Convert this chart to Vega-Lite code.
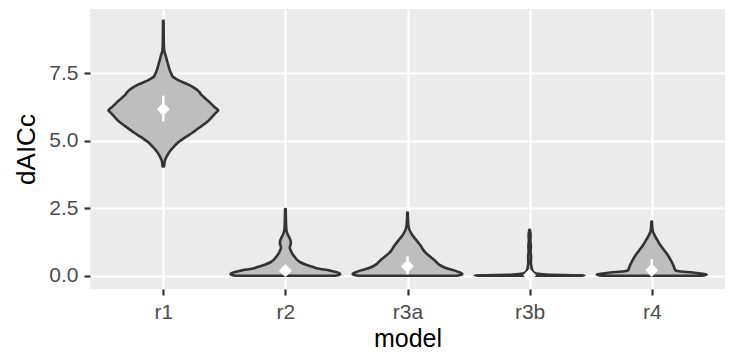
{
  "$schema": "https://vega.github.io/schema/vega-lite/v6.json",
  "autosize": "none",
  "width": 635,
  "height": 280,
  "padding": {"left": 90, "top": 9, "right": 11, "bottom": 66},
  "background": "white",
  "config": {
    "view": {"fill": "#EBEBEB", "stroke": null},
    "axis": {
      "domain": false,
      "labelFont": "Liberation Sans",
      "titleFont": "Liberation Sans",
      "labelFontSize": 21,
      "labelColor": "#4D4D4D",
      "titleFontSize": 26,
      "titleFontWeight": "normal",
      "titleColor": "#000000",
      "tickColor": "#333333",
      "tickSize": 6,
      "tickWidth": 2.2,
      "gridColor": "#FFFFFF",
      "gridOpacity": 1
    }
  },
  "datasets": {
    "summary": [
      {"model": "r1", "mean": 6.17, "lo": 5.72, "hi": 6.67},
      {"model": "r2", "mean": 0.19, "lo": 0.05, "hi": 0.36},
      {"model": "r3a", "mean": 0.35, "lo": 0.05, "hi": 0.72},
      {"model": "r3b", "mean": 0.02, "lo": 0.0, "hi": 0.08},
      {"model": "r4", "mean": 0.2, "lo": 0.0, "hi": 0.62}
    ],
    "r1": [
      {"dAICc": 4.05, "lo": -0.014, "hi": 0.014},
      {"dAICc": 4.25, "lo": -0.027, "hi": 0.027},
      {"dAICc": 4.42, "lo": -0.063, "hi": 0.063},
      {"dAICc": 4.6, "lo": -0.117, "hi": 0.117},
      {"dAICc": 4.79, "lo": -0.198, "hi": 0.198},
      {"dAICc": 4.95, "lo": -0.279, "hi": 0.279},
      {"dAICc": 5.1, "lo": -0.378, "hi": 0.378},
      {"dAICc": 5.2, "lo": -0.459, "hi": 0.459},
      {"dAICc": 5.34, "lo": -0.559, "hi": 0.559},
      {"dAICc": 5.5, "lo": -0.667, "hi": 0.667},
      {"dAICc": 5.65, "lo": -0.766, "hi": 0.766},
      {"dAICc": 5.75, "lo": -0.829, "hi": 0.829},
      {"dAICc": 5.85, "lo": -0.874, "hi": 0.874},
      {"dAICc": 5.95, "lo": -0.919, "hi": 0.919},
      {"dAICc": 6.05, "lo": -0.964, "hi": 0.964},
      {"dAICc": 6.12, "lo": -1.0, "hi": 1.0},
      {"dAICc": 6.24, "lo": -0.937, "hi": 0.937},
      {"dAICc": 6.33, "lo": -0.892, "hi": 0.892},
      {"dAICc": 6.42, "lo": -0.847, "hi": 0.847},
      {"dAICc": 6.52, "lo": -0.793, "hi": 0.793},
      {"dAICc": 6.6, "lo": -0.748, "hi": 0.748},
      {"dAICc": 6.7, "lo": -0.694, "hi": 0.694},
      {"dAICc": 6.8, "lo": -0.658, "hi": 0.658},
      {"dAICc": 6.89, "lo": -0.613, "hi": 0.613},
      {"dAICc": 6.98, "lo": -0.55, "hi": 0.55},
      {"dAICc": 7.07, "lo": -0.468, "hi": 0.468},
      {"dAICc": 7.15, "lo": -0.378, "hi": 0.378},
      {"dAICc": 7.23, "lo": -0.288, "hi": 0.288},
      {"dAICc": 7.3, "lo": -0.225, "hi": 0.225},
      {"dAICc": 7.38, "lo": -0.17, "hi": 0.17},
      {"dAICc": 7.45, "lo": -0.153, "hi": 0.153},
      {"dAICc": 7.57, "lo": -0.126, "hi": 0.126},
      {"dAICc": 7.7, "lo": -0.105, "hi": 0.105},
      {"dAICc": 7.88, "lo": -0.08, "hi": 0.08},
      {"dAICc": 8.0, "lo": -0.063, "hi": 0.063},
      {"dAICc": 8.2, "lo": -0.036, "hi": 0.036},
      {"dAICc": 8.35, "lo": -0.016, "hi": 0.016},
      {"dAICc": 8.6, "lo": -0.009, "hi": 0.009},
      {"dAICc": 9.0, "lo": -0.007, "hi": 0.007},
      {"dAICc": 9.44, "lo": -0.005, "hi": 0.005}
    ],
    "r2": [
      {"dAICc": 0.0, "lo": -0.9, "hi": 0.9},
      {"dAICc": 0.02, "lo": -0.96, "hi": 0.96},
      {"dAICc": 0.06, "lo": -1.0, "hi": 1.0},
      {"dAICc": 0.1, "lo": -0.98, "hi": 0.98},
      {"dAICc": 0.14, "lo": -0.92, "hi": 0.92},
      {"dAICc": 0.19, "lo": -0.81, "hi": 0.81},
      {"dAICc": 0.28, "lo": -0.57, "hi": 0.57},
      {"dAICc": 0.34, "lo": -0.48, "hi": 0.48},
      {"dAICc": 0.41, "lo": -0.38, "hi": 0.38},
      {"dAICc": 0.5, "lo": -0.27, "hi": 0.27},
      {"dAICc": 0.6, "lo": -0.21, "hi": 0.21},
      {"dAICc": 0.72, "lo": -0.16, "hi": 0.16},
      {"dAICc": 0.84, "lo": -0.12, "hi": 0.12},
      {"dAICc": 0.93, "lo": -0.1, "hi": 0.1},
      {"dAICc": 1.03, "lo": -0.08, "hi": 0.08},
      {"dAICc": 1.13, "lo": -0.09, "hi": 0.09},
      {"dAICc": 1.23, "lo": -0.1, "hi": 0.1},
      {"dAICc": 1.33, "lo": -0.09, "hi": 0.09},
      {"dAICc": 1.42, "lo": -0.07, "hi": 0.07},
      {"dAICc": 1.5, "lo": -0.05, "hi": 0.05},
      {"dAICc": 1.6, "lo": -0.03, "hi": 0.03},
      {"dAICc": 1.7, "lo": -0.018, "hi": 0.018},
      {"dAICc": 1.9, "lo": -0.012, "hi": 0.012},
      {"dAICc": 2.2, "lo": -0.008, "hi": 0.008},
      {"dAICc": 2.47, "lo": -0.005, "hi": 0.005}
    ],
    "r3a": [
      {"dAICc": 0.0, "lo": -0.9, "hi": 0.9},
      {"dAICc": 0.03, "lo": -0.97, "hi": 0.97},
      {"dAICc": 0.07, "lo": -1.0, "hi": 1.0},
      {"dAICc": 0.12, "lo": -0.955, "hi": 0.955},
      {"dAICc": 0.2, "lo": -0.85, "hi": 0.85},
      {"dAICc": 0.3, "lo": -0.685, "hi": 0.685},
      {"dAICc": 0.41, "lo": -0.577, "hi": 0.577},
      {"dAICc": 0.5, "lo": -0.53, "hi": 0.53},
      {"dAICc": 0.6, "lo": -0.477, "hi": 0.477},
      {"dAICc": 0.72, "lo": -0.405, "hi": 0.405},
      {"dAICc": 0.84, "lo": -0.337, "hi": 0.337},
      {"dAICc": 0.95, "lo": -0.29, "hi": 0.29},
      {"dAICc": 1.09, "lo": -0.247, "hi": 0.247},
      {"dAICc": 1.2, "lo": -0.207, "hi": 0.207},
      {"dAICc": 1.33, "lo": -0.157, "hi": 0.157},
      {"dAICc": 1.45, "lo": -0.108, "hi": 0.108},
      {"dAICc": 1.58, "lo": -0.067, "hi": 0.067},
      {"dAICc": 1.7, "lo": -0.036, "hi": 0.036},
      {"dAICc": 1.85, "lo": -0.018, "hi": 0.018},
      {"dAICc": 2.1, "lo": -0.009, "hi": 0.009},
      {"dAICc": 2.34, "lo": -0.005, "hi": 0.005}
    ],
    "r3b": [
      {"dAICc": 0.0, "lo": -0.9, "hi": 0.9},
      {"dAICc": 0.01, "lo": -1.0, "hi": 1.0},
      {"dAICc": 0.02, "lo": -0.8, "hi": 0.8},
      {"dAICc": 0.04, "lo": -0.36, "hi": 0.36},
      {"dAICc": 0.07, "lo": -0.16, "hi": 0.16},
      {"dAICc": 0.12, "lo": -0.08, "hi": 0.08},
      {"dAICc": 0.22, "lo": -0.045, "hi": 0.045},
      {"dAICc": 0.35, "lo": -0.032, "hi": 0.032},
      {"dAICc": 0.5, "lo": -0.023, "hi": 0.023},
      {"dAICc": 0.7, "lo": -0.027, "hi": 0.027},
      {"dAICc": 0.9, "lo": -0.018, "hi": 0.018},
      {"dAICc": 1.1, "lo": -0.023, "hi": 0.023},
      {"dAICc": 1.3, "lo": -0.014, "hi": 0.014},
      {"dAICc": 1.5, "lo": -0.018, "hi": 0.018},
      {"dAICc": 1.7, "lo": -0.005, "hi": 0.005}
    ],
    "r4": [
      {"dAICc": 0.0, "lo": -0.9, "hi": 0.9},
      {"dAICc": 0.04, "lo": -1.0, "hi": 1.0},
      {"dAICc": 0.07, "lo": -0.93, "hi": 0.93},
      {"dAICc": 0.12, "lo": -0.75, "hi": 0.75},
      {"dAICc": 0.17, "lo": -0.5, "hi": 0.5},
      {"dAICc": 0.2, "lo": -0.43, "hi": 0.43},
      {"dAICc": 0.28, "lo": -0.415, "hi": 0.415},
      {"dAICc": 0.41, "lo": -0.39, "hi": 0.39},
      {"dAICc": 0.59, "lo": -0.345, "hi": 0.345},
      {"dAICc": 0.75, "lo": -0.297, "hi": 0.297},
      {"dAICc": 0.9, "lo": -0.243, "hi": 0.243},
      {"dAICc": 1.0, "lo": -0.207, "hi": 0.207},
      {"dAICc": 1.15, "lo": -0.153, "hi": 0.153},
      {"dAICc": 1.3, "lo": -0.108, "hi": 0.108},
      {"dAICc": 1.46, "lo": -0.063, "hi": 0.063},
      {"dAICc": 1.55, "lo": -0.04, "hi": 0.04},
      {"dAICc": 1.64, "lo": -0.022, "hi": 0.022},
      {"dAICc": 1.8, "lo": -0.011, "hi": 0.011},
      {"dAICc": 2.01, "lo": -0.005, "hi": 0.005}
    ]
  },
  "resolve": {"scale": {"x": "independent"}},
  "layer": [
    {
      "data": {"name": "summary"},
      "mark": {"type": "point", "opacity": 0},
      "encoding": {
        "x": {
          "field": "model", "type": "nominal", "sort": null,
          "scale": {"type": "point", "padding": 0.6},
          "axis": {"orient": "bottom", "title": "model", "labelAngle": 0, "grid": true, "gridWidth": 2.2, "labelPadding": 6, "titlePadding": 4, "titleFontSize": 25}
        },
        "y": {
          "field": "mean", "type": "quantitative", "title": "dAICc",
          "scale": {"domain": [-0.49, 9.88], "nice": false, "zero": false},
          "axis": {
            "values": [0, 1.25, 2.5, 3.75, 5, 6.25, 7.5, 8.75],
            "labelExpr": "datum.value % 2.5 === 0 ? format(datum.value, '.1f') : ''",
            "gridWidth": {"condition": {"test": "datum.value % 2.5 !== 0", "value": 1.1}, "value": 2.2},
            "tickOpacity": {"condition": {"test": "datum.value % 2.5 !== 0", "value": 0}, "value": 1},
            "labelPadding": 6,
            "titlePadding": 9
          }
        }
      }
    },
    {
      "data": {"name": "r1"},
      "mark": {"type": "area", "orient": "horizontal", "interpolate": "monotone", "fill": "#BEBEBE", "stroke": "#333333", "strokeWidth": 2.6, "strokeJoin": "round"},
      "encoding": {
        "y": {"field": "dAICc", "type": "quantitative", "title": "dAICc", "scale": {"domain": [-0.49, 9.88], "nice": false, "zero": false}},
        "x": {"field": "lo", "type": "quantitative", "axis": null, "scale": {"domain": [-1.335, 10.231], "nice": false, "zero": false}},
        "x2": {"field": "hi"}
      }
    },
    {
      "data": {"name": "r2"},
      "mark": {"type": "area", "orient": "horizontal", "interpolate": "monotone", "fill": "#BEBEBE", "stroke": "#333333", "strokeWidth": 2.6, "strokeJoin": "round"},
      "encoding": {
        "y": {"field": "dAICc", "type": "quantitative", "title": "dAICc", "scale": {"domain": [-0.49, 9.88], "nice": false, "zero": false}},
        "x": {"field": "lo", "type": "quantitative", "axis": null, "scale": {"domain": [-3.559, 8.007], "nice": false, "zero": false}},
        "x2": {"field": "hi"}
      }
    },
    {
      "data": {"name": "r3a"},
      "mark": {"type": "area", "orient": "horizontal", "interpolate": "monotone", "fill": "#BEBEBE", "stroke": "#333333", "strokeWidth": 2.6, "strokeJoin": "round"},
      "encoding": {
        "y": {"field": "dAICc", "type": "quantitative", "title": "dAICc", "scale": {"domain": [-0.49, 9.88], "nice": false, "zero": false}},
        "x": {"field": "lo", "type": "quantitative", "axis": null, "scale": {"domain": [-5.783, 5.783], "nice": false, "zero": false}},
        "x2": {"field": "hi"}
      }
    },
    {
      "data": {"name": "r3b"},
      "mark": {"type": "area", "orient": "horizontal", "interpolate": "monotone", "fill": "#BEBEBE", "stroke": "#333333", "strokeWidth": 2.6, "strokeJoin": "round"},
      "encoding": {
        "y": {"field": "dAICc", "type": "quantitative", "title": "dAICc", "scale": {"domain": [-0.49, 9.88], "nice": false, "zero": false}},
        "x": {"field": "lo", "type": "quantitative", "axis": null, "scale": {"domain": [-8.007, 3.559], "nice": false, "zero": false}},
        "x2": {"field": "hi"}
      }
    },
    {
      "data": {"name": "r4"},
      "mark": {"type": "area", "orient": "horizontal", "interpolate": "monotone", "fill": "#BEBEBE", "stroke": "#333333", "strokeWidth": 2.6, "strokeJoin": "round"},
      "encoding": {
        "y": {"field": "dAICc", "type": "quantitative", "title": "dAICc", "scale": {"domain": [-0.49, 9.88], "nice": false, "zero": false}},
        "x": {"field": "lo", "type": "quantitative", "axis": null, "scale": {"domain": [-10.231, 1.335], "nice": false, "zero": false}},
        "x2": {"field": "hi"}
      }
    },
    {
      "data": {"name": "summary"},
      "encoding": {
        "x": {"field": "model", "type": "nominal", "sort": null, "axis": null, "scale": {"type": "point", "padding": 0.6}}
      },
      "layer": [
        {
          "mark": {"type": "rule", "color": "#FFFFFF", "strokeWidth": 2.6},
          "encoding": {
            "y": {"field": "lo", "type": "quantitative", "title": "dAICc", "scale": {"domain": [-0.49, 9.88], "nice": false, "zero": false}},
            "y2": {"field": "hi"}
          }
        },
        {
          "mark": {"type": "point", "shape": "diamond", "filled": true, "color": "#FFFFFF", "opacity": 1, "size": 170},
          "encoding": {
            "y": {"field": "mean", "type": "quantitative", "title": "dAICc", "scale": {"domain": [-0.49, 9.88], "nice": false, "zero": false}}
          }
        }
      ]
    }
  ]
}
